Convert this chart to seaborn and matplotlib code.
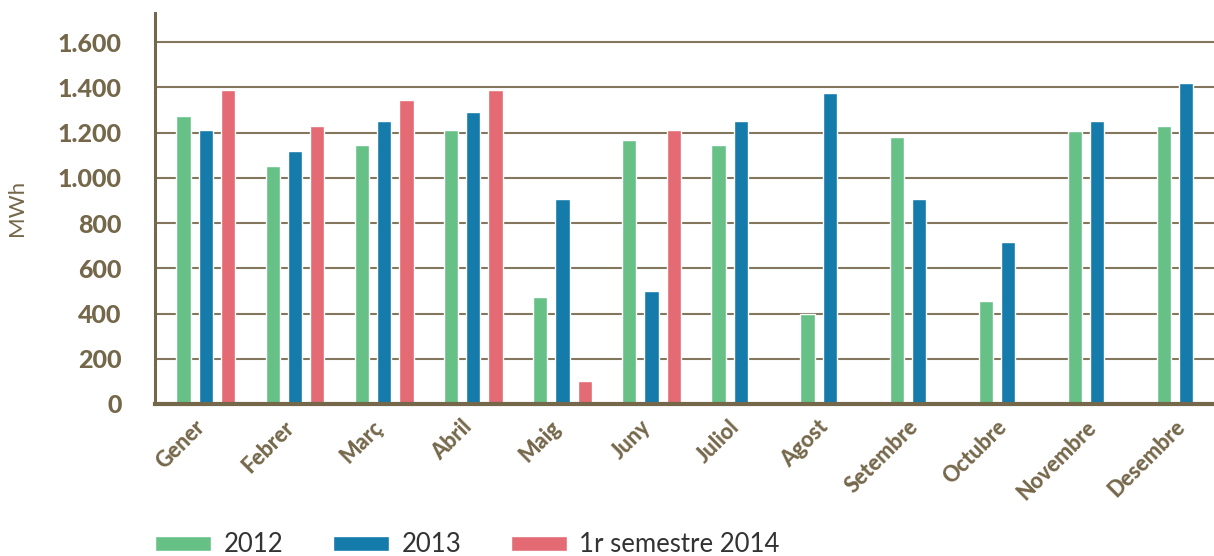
import matplotlib
matplotlib.use("Agg")
import matplotlib.pyplot as plt
import matplotlib.ticker as mticker
import matplotlib.transforms as mtransforms
import seaborn as sns
import numpy as np
import pandas as pd

months = ["Gener", "Febrer", "Març", "Abril", "Maig", "Juny", "Juliol",
          "Agost", "Setembre", "Octubre", "Novembre", "Desembre"]
series_names = ["2012", "2013", "1r semestre 2014"]
v2012 = [1275, 1050, 1145, 1210, 475, 1165, 1145, 400, 1180, 455, 1205, 1230]
v2013 = [1210, 1120, 1250, 1290, 905, 500, 1250, 1375, 908, 715, 1250, 1420]
v2014 = [1390, 1230, 1345, 1390, 100, 1210, np.nan, np.nan, np.nan, np.nan, np.nan, np.nan]
yticks = [0, 200, 400, 600, 800, 1000, 1200, 1400, 1600]

palette = {"2012": "#67c187", "2013": "#147bab", "1r semestre 2014": "#e46a74"}
olive = "#75674a"

df = pd.DataFrame({
    "mes": months * 3,
    "serie": [s for s in series_names for _ in months],
    "MWh": v2012 + v2013 + v2014,
})

sns.set_style("white")
plt.rcParams["font.family"] = ["Lato", "DejaVu Sans"]

fig = plt.figure(figsize=(12.14, 5.56), dpi=100)
ax = fig.add_axes([0.1277, 0.2734, 0.8723, 0.7038])

sns.barplot(data=df, x="mes", y="MWh", hue="serie", order=months,
            hue_order=series_names, palette=palette, width=0.75, gap=0.36,
            saturation=1, ax=ax, legend=True)

ax.set_ylim(0, 1730)
ax.set_xlim(-0.57, 11.31)
ax.set_yticks(yticks)
ax.yaxis.set_major_formatter(mticker.FuncFormatter(lambda v, p: f"{int(v):,}".replace(",", ".")))
ax.grid(axis="y", color=olive, linewidth=1.5, alpha=0.9)
ax.set_axisbelow(True)

for side in ["top", "right"]:
    ax.spines[side].set_visible(False)
ax.spines["left"].set_color(olive)
ax.spines["left"].set_linewidth(2.2)
ax.spines["bottom"].set_color(olive)
ax.spines["bottom"].set_linewidth(3)

ax.tick_params(axis="y", length=12, width=1.5, color=olive, pad=12,
               labelsize=18, labelcolor=olive)
ax.tick_params(axis="x", length=0, pad=9, labelsize=15.5, labelcolor=olive)
for lab in ax.get_yticklabels():
    lab.set_fontweight("black")
shift = mtransforms.ScaledTranslation(-12 / 100, 0, fig.dpi_scale_trans)
for lab in ax.get_xticklabels():
    lab.set_fontweight("black")
    lab.set_rotation(45)
    lab.set_ha("right")
    lab.set_rotation_mode("anchor")
    lab.set_transform(lab.get_transform() + shift)

ax.set_xlabel("")
ax.set_ylabel("MWh", fontsize=16, color=olive, labelpad=22)

handles, labels = ax.get_legend_handles_labels()
ax.get_legend().remove()
fig.legend(handles, labels, loc="center left", bbox_to_anchor=(0.128, 0.02),
           ncol=3, frameon=False, handlelength=2.18,
           handleheight=0.55, handletextpad=0.47, columnspacing=1.95,
           borderpad=0, borderaxespad=0, labelcolor="#333333",
           prop={"size": 18.5})

fig.savefig("out.png", dpi=100)
